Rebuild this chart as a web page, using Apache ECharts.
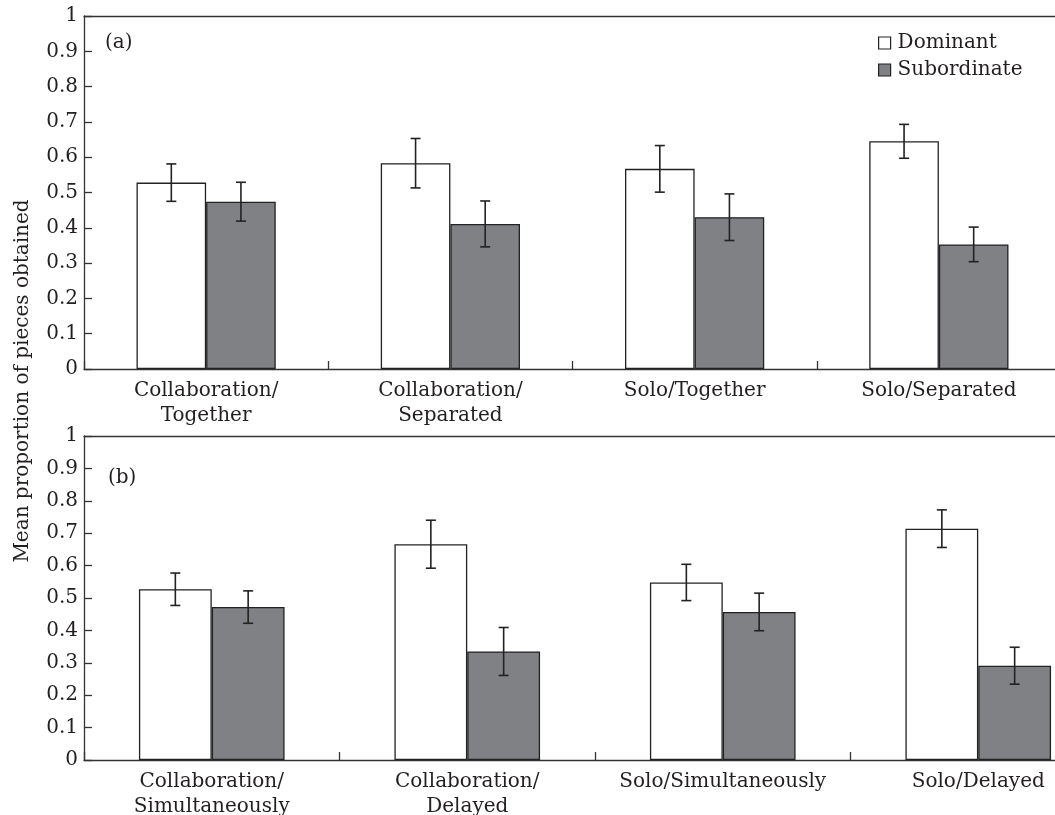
<!DOCTYPE html>
<html>
<head>
<meta charset="utf-8">
<script src="https://cdn.jsdelivr.net/npm/echarts@6/dist/echarts.min.js"></script>
<style>
  html, body { margin: 0; padding: 0; background: #fff; }
  #chart { width: 1055px; height: 815px; }
</style>
</head>
<body>
<div id="chart"></div>
<script>
// Panel (a): collaboration vs solo, together vs separated
const categoriesA = ['Collaboration/\nTogether', 'Collaboration/\nSeparated', 'Solo/Together', 'Solo/Separated'];
const dominantA = [0.528, 0.583, 0.567, 0.645];
const dominantErrA = [0.053, 0.070, 0.066, 0.048];
const subordinateA = [0.474, 0.411, 0.430, 0.353];
const subordinateErrA = [0.055, 0.065, 0.066, 0.049];

// Panel (b): collaboration vs solo, simultaneous vs delayed
const categoriesB = ['Collaboration/\nSimultaneously', 'Collaboration/\nDelayed', 'Solo/Simultaneously', 'Solo/Delayed'];
const dominantB = [0.527, 0.666, 0.548, 0.714];
const dominantErrB = [0.050, 0.074, 0.056, 0.058];
const subordinateB = [0.472, 0.335, 0.457, 0.291];
const subordinateErrB = [0.050, 0.074, 0.058, 0.057];

const panelLabels = ['(a)', '(b)'];
const seriesNames = ['Dominant', 'Subordinate'];
const yAxisTitle = 'Mean proportion of pieces obtained';

const FONT = 'DejaVu Serif';
const INK = '#231f20';
const AXIS = '#333';
const GREY = '#808185';
const BAR_FRAC = 0.285;

const chart = echarts.init(document.getElementById('chart'), null, { renderer: 'canvas' });

function errorData(values, errs) {
  return values.map((v, i) => [i, v, errs[i]]);
}

// Vertical error bar with caps, shifted onto the left (-1) or right (+1) bar of a category
function errorBar(side) {
  return function (params, api) {
    const ci = api.value(0), v = api.value(1), e = api.value(2);
    const top = api.coord([ci, v + e]);
    const bot = api.coord([ci, v - e]);
    const band = api.size([1, 0])[0];
    const x = top[0] + side * band * BAR_FRAC / 2;
    const cap = 5;
    const style = { stroke: '#222', lineWidth: 1.6 };
    return {
      type: 'group',
      children: [
        { type: 'line', shape: { x1: x, y1: top[1], x2: x, y2: bot[1] }, style },
        { type: 'line', shape: { x1: x - cap, y1: top[1], x2: x + cap, y2: top[1] }, style },
        { type: 'line', shape: { x1: x - cap, y1: bot[1], x2: x + cap, y2: bot[1] }, style }
      ]
    };
  };
}

// Both plot areas run past the right edge of the page
const grids = [
  { left: 84, top: 16, width: 977, height: 353, outerBoundsMode: 'none', containLabel: false },
  { left: 84, top: 436, width: 1022, height: 324, outerBoundsMode: 'none', containLabel: false }
];

function bottomAxis(gi, cats) {
  return {
    type: 'category', gridIndex: gi, data: cats, position: 'bottom',
    axisLine: { show: true, lineStyle: { color: AXIS, width: 1.3 } },
    axisTick: { show: true, inside: true, length: 8, lineStyle: { color: AXIS, width: 1.3 } },
    axisLabel: { interval: 0, color: INK, fontFamily: FONT, fontSize: 20, lineHeight: 25, margin: 9 }
  };
}
function topAxis(gi, cats) {
  return {
    type: 'category', gridIndex: gi, data: cats, position: 'top',
    axisLine: { show: true, lineStyle: { color: AXIS, width: 1.3 } },
    axisTick: { show: false }, axisLabel: { show: false }
  };
}
function valueAxis(gi) {
  return {
    type: 'value', gridIndex: gi, min: 0, max: 1, interval: 0.1,
    axisLine: { show: true, lineStyle: { color: AXIS, width: 1.3 } },
    axisTick: { show: true, inside: true, length: 8, lineStyle: { color: AXIS, width: 1.3 } },
    splitLine: { show: false },
    axisLabel: { color: INK, fontFamily: FONT, fontSize: 20, margin: 6 }
  };
}

function barSeries(name, values, axisIdx, fill) {
  return {
    name, type: 'bar', data: values,
    xAxisIndex: axisIdx, yAxisIndex: axisIdx / 2 | 0,
    barWidth: (BAR_FRAC * 100) + '%', barGap: '0%',
    itemStyle: { color: fill, borderColor: '#222', borderWidth: 1.3 },
    emphasis: { disabled: true }, silent: true
  };
}
function errSeries(values, errs, axisIdx, side) {
  return {
    name: 'err', type: 'custom', data: errorData(values, errs),
    xAxisIndex: axisIdx, yAxisIndex: axisIdx / 2 | 0,
    encode: { x: 0, y: 1 }, renderItem: errorBar(side), z: 5, silent: true
  };
}

const option = {
  animation: false,
  backgroundColor: '#fff',
  textStyle: { fontFamily: FONT },
  grid: grids,
  xAxis: [bottomAxis(0, categoriesA), topAxis(0, categoriesA), bottomAxis(1, categoriesB), topAxis(1, categoriesB)],
  yAxis: [valueAxis(0), valueAxis(1)],
  legend: {
    orient: 'vertical', left: 878, top: 33, padding: 0, itemGap: 7,
    itemWidth: 12, itemHeight: 12, icon: 'rect',
    textStyle: { color: INK, fontFamily: FONT, fontSize: 20, lineHeight: 20, padding: [0, 0, 0, 2] },
    data: [
      { name: seriesNames[0], itemStyle: { color: '#fff', borderColor: '#222', borderWidth: 1.2 } },
      { name: seriesNames[1], itemStyle: { color: GREY, borderColor: '#222', borderWidth: 1.2 } }
    ]
  },
  graphic: [
    { type: 'text', left: 105, top: 33, style: { text: panelLabels[0], font: '20px "' + FONT + '"', fill: INK } },
    { type: 'text', left: 108, top: 468, style: { text: panelLabels[1], font: '20px "' + FONT + '"', fill: INK } },
    { type: 'text', x: 23, y: 381, rotation: Math.PI / 2,
      style: { text: yAxisTitle, font: '20px "' + FONT + '"', fill: INK, align: 'center', verticalAlign: 'middle' } }
  ],
  series: [
    barSeries(seriesNames[0], dominantA, 0, '#fff'),
    barSeries(seriesNames[1], subordinateA, 0, GREY),
    errSeries(dominantA, dominantErrA, 0, -1),
    errSeries(subordinateA, subordinateErrA, 0, 1),
    barSeries(seriesNames[0], dominantB, 2, '#fff'),
    barSeries(seriesNames[1], subordinateB, 2, GREY),
    errSeries(dominantB, dominantErrB, 2, -1),
    errSeries(subordinateB, subordinateErrB, 2, 1)
  ]
};

chart.setOption(option);
</script>
</body>
</html>
